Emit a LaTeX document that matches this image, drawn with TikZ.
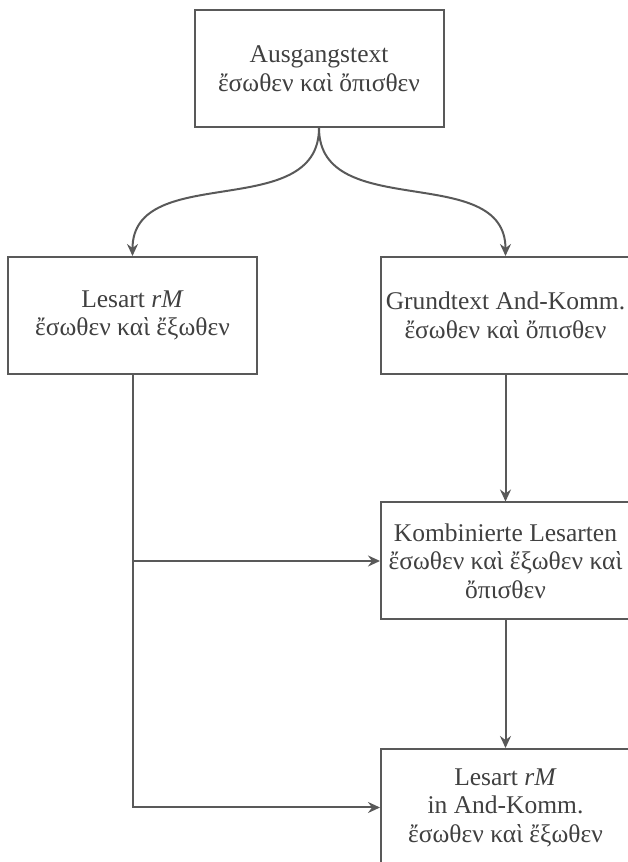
\documentclass[tikz,border=0pt]{standalone}
\usepackage{fontspec}
\setmainfont{Liberation Serif}
\usetikzlibrary{positioning,arrows.meta}
\definecolor{linegray}{HTML}{595959}
\definecolor{textgray}{HTML}{404040}

\begin{document}
\begin{tikzpicture}[x=1pt, y=1pt,
    box/.style={draw=linegray, line width=2pt, minimum width=249pt, minimum height=117pt, inner sep=0pt, align=center, text=textgray, font=\fontsize{25.5}{28.5}\selectfont},
    arr/.style={draw=linegray, line width=2pt, -{Stealth[length=12pt, width=11pt, inset=4pt]}}]
  \useasboundingbox (0,0) rectangle (627,862);
  % Source text
  \node[box] (ausgang) at (319,793.5) {Ausgangstext\\ἔσωθεν καὶ ὄπισθεν};
  % Two readings
  \node[box] (lesart) at (132.5,546.5) {Lesart \textit{rM}\\ἔσωθεν καὶ ἔξωθεν};
  \node[box] (grund) at (505.5,546.5) {Grundtext And-Komm.\\ἔσωθεν καὶ ὄπισθεν};
  % Combination and result
  \node[box] (kombi) at (505.5,301) {Kombinierte Lesarten\\ἔσωθεν καὶ ἔξωθεν καὶ\\ὄπισθεν};
  \node[box] (rmand) at (505.5,54.5) {Lesart \textit{rM}\\in And-Komm.\\ἔσωθεν καὶ ἔξωθεν};
  % Connectors
  \draw[arr] (ausgang.south) .. controls +(0,-95) and +(0,95) .. (lesart.north);
  \draw[arr] (ausgang.south) .. controls +(0,-95) and +(0,95) .. (grund.north);
  \draw[arr] (grund) -- (kombi);
  \draw[arr] (kombi) -- (rmand);
  \coordinate (branch) at (lesart.south |- kombi.west);
  \draw[arr] (lesart.south) |- (rmand.west);
  \draw[arr] (branch) -- (kombi.west);
\end{tikzpicture}
\end{document}
